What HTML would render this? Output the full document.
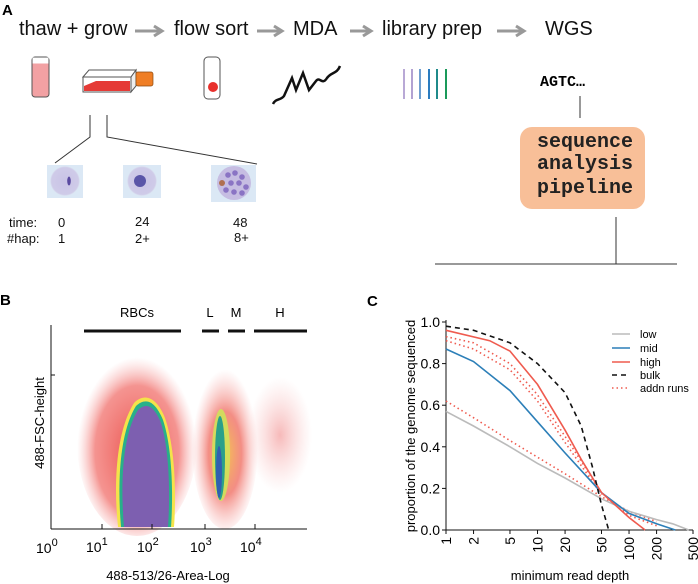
<!DOCTYPE html>
<html><head><meta charset="utf-8"><style>
html,body{margin:0;padding:0;background:#fff;}
svg{display:block;font-family:"Liberation Sans",Arial,sans-serif;}
.mono{font-family:"Liberation Mono",monospace;font-weight:bold;}
</style></head><body>
<svg id="fig" width="698" height="584" viewBox="0 0 698 584">
<defs>
<radialGradient id="rbcOuter" cx="50%" cy="55%" r="50%">
<stop offset="0" stop-color="#e9403a" stop-opacity="0.9"/><stop offset="0.7" stop-color="#ef5a55" stop-opacity="0.65"/><stop offset="1" stop-color="#f6a0a0" stop-opacity="0"/></radialGradient>
<radialGradient id="lmOuter" cx="50%" cy="55%" r="50%">
<stop offset="0" stop-color="#f2c040" stop-opacity="0.9"/><stop offset="0.5" stop-color="#ee5d50" stop-opacity="0.7"/><stop offset="1" stop-color="#f6a0a0" stop-opacity="0"/></radialGradient>
<radialGradient id="hOuter" cx="50%" cy="50%" r="50%">
<stop offset="0" stop-color="#f08080" stop-opacity="0.55"/><stop offset="1" stop-color="#f6b0b0" stop-opacity="0"/></radialGradient>
<radialGradient id="cell" cx="50%" cy="50%" r="50%"><stop offset="0" stop-color="#c9c3e6"/><stop offset="0.9" stop-color="#cfcbe8"/><stop offset="1" stop-color="#dde8f4"/></radialGradient>
</defs>

<!-- Panel A -->
<g>
<text x="2" y="15" font-size="15" font-weight="bold">A</text>
<g font-size="20" fill="#111">
<text x="19" y="35">thaw + grow</text>
<text x="174" y="35">flow sort</text>
<text x="293" y="35">MDA</text>
<text x="382" y="35">library prep</text>
<text x="545" y="35">WGS</text>
</g>
<g stroke="#999" stroke-width="3" fill="none">
<path d="M135 31H161M154 26L162 31L154 36"/>
<path d="M257 31H281M274 26L282 31L274 36"/>
<path d="M350 31H370M363 26L371 31L363 36"/>
<path d="M497 31H523M516 26L524 31L516 36"/>
</g>
<g>
<rect x="32" y="57" width="17" height="40" rx="3" fill="#f2a1a3" stroke="#555" stroke-width="1"/>
<rect x="32.5" y="57.5" width="16" height="6" fill="#fff"/>
</g>
<g>
<path d="M83 77L89 70H136L131 77Z" fill="#fff" stroke="#555"/>
<path d="M131 77L136 70V86L131 92Z" fill="#eee" stroke="#555"/>
<rect x="83" y="77" width="48" height="15" fill="#fff" stroke="#555"/>
<path d="M84 91V86L96 81H130V91Z" fill="#e53a36"/>
<rect x="136" y="72" width="17" height="14" rx="2" fill="#ef7e25" stroke="#8a4a10" stroke-width="0.7"/>
</g>
<g>
<rect x="204" y="57" width="16" height="42" rx="4" fill="#fff" stroke="#555"/>
<circle cx="213" cy="87" r="5" fill="#e8302c"/>
</g>
<path d="M273 104C276 98 280 101 284 96L292 78L296 90L303 73L309 90L316 81C320 76 322 86 327 78C331 72 337 74 340 66" fill="none" stroke="#111" stroke-width="2.5"/>
<g stroke-width="2">
<line x1="404" y1="69" x2="404" y2="99" stroke="#b9a9d6"/>
<line x1="412" y1="69" x2="412" y2="99" stroke="#b2a2d2"/>
<line x1="420" y1="69" x2="420" y2="99" stroke="#6f9fcf"/>
<line x1="429" y1="69" x2="429" y2="99" stroke="#2b7cc0"/>
<line x1="437" y1="69" x2="437" y2="99" stroke="#1f8a8a"/>
<line x1="446" y1="69" x2="446" y2="99" stroke="#1a9a5a"/>
</g>
<text x="540" y="86" class="mono" font-size="15">AGTC…</text>
<line x1="580" y1="96" x2="580" y2="118" stroke="#333"/>
<rect x="520" y="127" width="125" height="82" rx="12" fill="#f8bf98"/>
<g class="mono" font-size="20" fill="#222" text-anchor="middle">
<text x="585" y="147">sequence</text>
<text x="585" y="169">analysis</text>
<text x="585" y="193">pipeline</text>
</g>
<g stroke="#333" fill="none">
<line x1="616" y1="217" x2="616" y2="264"/><line x1="435" y1="264" x2="677" y2="264"/>
<path d="M90 115V137L55 163"/><path d="M107 115V137L257 164"/>
</g>
<g>
<rect x="47" y="165" width="36" height="33" fill="#dbe8f5"/><circle cx="65" cy="181" r="15" fill="url(#cell)"/><ellipse cx="69" cy="181" rx="1.8" ry="4.5" fill="#5a4aa0"/>
<rect x="123" y="165" width="38" height="33" fill="#dbe8f5"/><circle cx="142" cy="181" r="15" fill="url(#cell)"/><circle cx="140" cy="181" r="6" fill="#5a55a8"/>
<rect x="211" y="165" width="45" height="37" fill="#dbe8f5"/><circle cx="234" cy="183" r="17" fill="#c6bde2"/>
<g fill="#8a74c4"><circle cx="228" cy="175" r="2.8"/><circle cx="235" cy="173" r="2.8"/><circle cx="242" cy="177" r="2.8"/><circle cx="231" cy="183" r="2.8"/><circle cx="239" cy="183" r="2.8"/><circle cx="246" cy="187" r="2.8"/><circle cx="226" cy="190" r="2.8"/><circle cx="234" cy="192" r="2.8"/><circle cx="242" cy="193" r="2.8"/></g><circle cx="222" cy="183" r="3" fill="#b07050"/>
</g>
<g font-size="13" fill="#111">
<text x="9" y="227">time:</text>
<text x="7" y="243">#hap:</text>
<text x="58" y="227">0</text><text x="58" y="243">1</text>
<text x="135" y="226">24</text><text x="135" y="243">2+</text>
<text x="233" y="227">48</text><text x="234" y="242">8+</text>
</g>
</g>

<!-- Panel B -->
<g>
<text x="0" y="305" font-size="15" font-weight="bold">B</text>
<g font-size="13" text-anchor="middle">
<text x="137" y="317">RBCs</text>
<text x="210" y="317">L</text>
<text x="236" y="317">M</text>
<text x="280" y="317">H</text>
</g>
<g stroke="#111" stroke-width="3">
<line x1="84" y1="331" x2="181" y2="331"/><line x1="202" y1="331" x2="219" y2="331"/>
<line x1="228" y1="331" x2="245" y2="331"/><line x1="254" y1="331" x2="307" y2="331"/>
</g>
<g>
<ellipse cx="280" cy="435" rx="32" ry="58" fill="url(#hOuter)"/>
<ellipse cx="137" cy="442" rx="60" ry="94" fill="url(#rbcOuter)"/>
<path d="M118 527C113 480 117 430 134 403C145 392 157 398 165 418C176 450 176 500 174 527Z" fill="#f4e34a"/>
<path d="M121 527C117 480 120 432 136 406C146 397 155 401 163 420C173 450 173 500 171 527Z" fill="#28b08a"/>
<path d="M124 527C120 480 123 434 138 410C147 402 154 406 161 423C170 452 170 500 168 527Z" fill="#7d5fb0"/>
<ellipse cx="225" cy="445" rx="33" ry="84" fill="url(#lmOuter)"/>
<ellipse cx="221" cy="455" rx="9" ry="46" fill="#cfe25a" opacity="0.9"/>
<ellipse cx="220" cy="458" rx="5" ry="42" fill="#2aa08a"/>
<ellipse cx="219" cy="472" rx="3" ry="26" fill="#3060b0"/>
</g>
<g stroke="#111" fill="none">
<line x1="51" y1="325" x2="51" y2="529"/>
<line x1="51" y1="529" x2="307" y2="529"/>
<path d="M102 529v-5M152 529v-5M205 529v-5M255 529v-5M51 375h4" />
</g>
<g font-size="14">
<text x="36" y="553">10<tspan dy="-7" font-size="11">0</tspan></text>
<text x="86" y="552">10<tspan dy="-7" font-size="11">1</tspan></text>
<text x="137" y="552">10<tspan dy="-7" font-size="11">2</tspan></text>
<text x="190" y="552">10<tspan dy="-7" font-size="11">3</tspan></text>
<text x="240" y="552">10<tspan dy="-7" font-size="11">4</tspan></text>
</g>
<text x="168" y="580" font-size="13" text-anchor="middle">488-513/26-Area-Log</text>
<text transform="translate(44,423) rotate(-90)" font-size="13" text-anchor="middle">488-FSC-height</text>
</g>

<!-- Panel C -->
<g>
<text x="367" y="306" font-size="15" font-weight="bold">C</text>
<g id="cplot"></g>
<text x="570" y="580" font-size="13" text-anchor="middle">minimum read depth</text>
<text transform="translate(415,426) rotate(-90)" font-size="13" text-anchor="middle">proportion of the genome sequenced</text>
<g font-size="11">
<line x1="612" y1="334" x2="630" y2="334" stroke="#bbb" stroke-width="1.5"/><text x="640" y="338">low</text>
<line x1="612" y1="348" x2="630" y2="348" stroke="#2c7fb8" stroke-width="1.5"/><text x="640" y="352">mid</text>
<line x1="612" y1="362" x2="630" y2="362" stroke="#ef5b4f" stroke-width="1.5"/><text x="640" y="366">high</text>
<line x1="612" y1="375" x2="630" y2="375" stroke="#111" stroke-width="1.5" stroke-dasharray="5,4"/><text x="640" y="379">bulk</text>
<line x1="612" y1="388" x2="630" y2="388" stroke="#ef5b4f" stroke-width="1.5" stroke-dasharray="1.5,3"/><text x="640" y="392">addn runs</text>
</g>
</g>
</svg>
<script>
const xTicks=[1,2,5,10,20,50,100,200,500];
const yTicks=[0,0.2,0.4,0.6,0.8,1.0];
const lowX=[1,2,5,10,20,50,100,200,300,450];
const lowY=[0.57,0.50,0.40,0.32,0.25,0.15,0.09,0.05,0.03,0.0];
const midX=[1,2,5,10,20,50,100,200,320];
const midY=[0.87,0.81,0.67,0.52,0.37,0.18,0.08,0.03,0.0];
const highX=[1,3,5,10,20,30,50,100,150];
const highY=[0.96,0.91,0.86,0.70,0.48,0.34,0.18,0.06,0.0];
const bulkX=[1,2,5,10,20,30,40,50,60];
const bulkY=[0.98,0.96,0.90,0.80,0.66,0.50,0.30,0.12,0.0];
const addn1X=[1,2,5,10,20,50,100,200];
const addn1Y=[0.93,0.90,0.80,0.65,0.45,0.18,0.07,0.02];
const addn2X=[1,2,5,10,20,50];
const addn2Y=[0.91,0.87,0.77,0.62,0.42,0.17];
const addn3X=[1,2,5,10,20,50,100,200];
const addn3Y=[0.62,0.54,0.43,0.35,0.27,0.16,0.09,0.04];
const NS='http://www.w3.org/2000/svg';
const X0=446,X1=693,Y0=530,Y1=322;
function sx(v){return X0+Math.log10(v)/Math.log10(500)*(X1-X0);}
function sy(v){return Y0-v*(Y0-Y1);}
const g=document.getElementById('cplot');
function mk(tag,attrs){const e=document.createElementNS(NS,tag);for(const k in attrs)e.setAttribute(k,attrs[k]);g.appendChild(e);return e;}
let ax=mk('line',{x1:X0,y1:Y1-2,x2:X0,y2:Y0,stroke:'#111'});


let bx=mk('line',{x1:X0,y1:Y0,x2:X1,y2:Y0,stroke:'#111'});


yTicks.forEach(t=>{
 mk('line',{x1:X0-4,x2:X0,y1:sy(t),y2:sy(t),stroke:'#111'});
 const tx=mk('text',{x:X0-6,y:sy(t)+5,'font-size':14,'text-anchor':'end'});
 tx.textContent=t.toFixed(1);
 
 
});
xTicks.forEach(t=>{
 mk('line',{x1:sx(t),x2:sx(t),y1:Y0,y2:Y0+4,stroke:'#111'});
 const tx=mk('text',{transform:`translate(${sx(t)+5},${Y0+7}) rotate(-90)`,'font-size':14,'text-anchor':'end'});
 tx.textContent=t;
 
 
});
function line(xs,ys,color,dash,name){
 const d=xs.map((x,i)=>(i?'L':'M')+sx(x).toFixed(1)+' '+sy(ys[i]).toFixed(1)).join('');
 const p=mk('path',{d:d,fill:'none',stroke:color,'stroke-width':1.6});
 if(dash)p.setAttribute('stroke-dasharray',dash);
 
 
}
line(addn3X,addn3Y,'#ef5b4f','1.5,3','series-addn-run-3');
line(addn2X,addn2Y,'#ef5b4f','1.5,3','series-addn-run-2');
line(addn1X,addn1Y,'#ef5b4f','1.5,3','series-addn-run-1');
line(lowX,lowY,'#bbbbbb',null,'series-low');
line(midX,midY,'#2c7fb8',null,'series-mid');
line(highX,highY,'#ef5b4f',null,'series-high');
line(bulkX,bulkY,'#111',"5,4",'series-bulk');
</script>
</body></html>
